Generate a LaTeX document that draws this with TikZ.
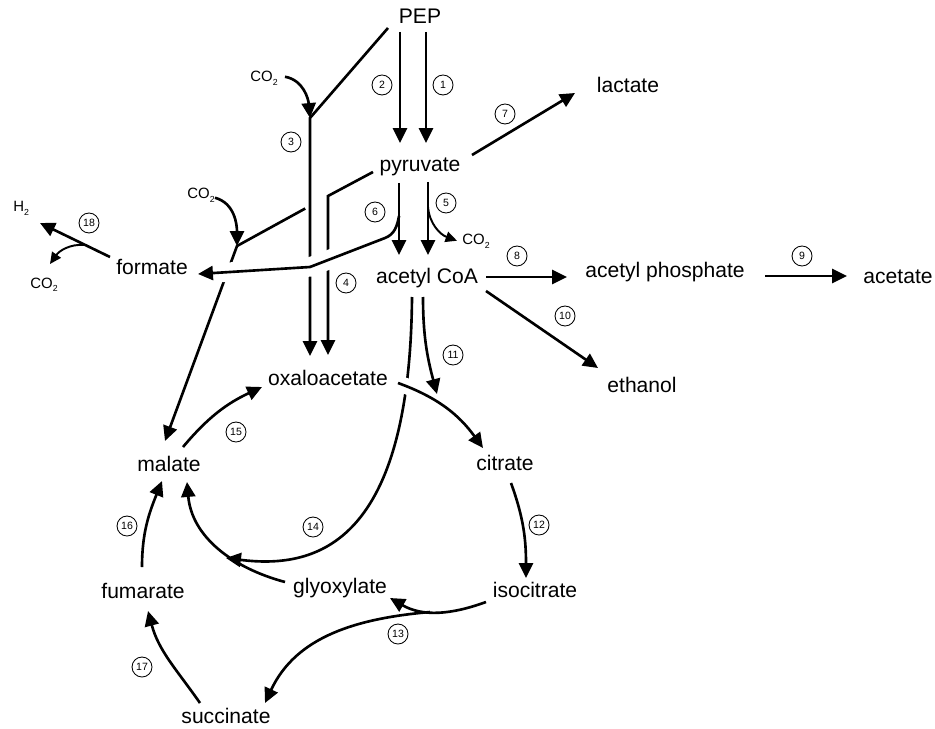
\documentclass[tikz,border=0pt]{standalone}
\usepackage{fontspec}
\setmainfont{Liberation Sans}
\usetikzlibrary{arrows.meta, calc}

\newcommand{\cotwo}{CO\raisebox{-0.5ex}{\fontsize{5}{5}\selectfont 2}}
\newcommand{\htwo}{H\raisebox{-0.5ex}{\fontsize{5}{5}\selectfont 2}}

\tikzset{
  met/.style={inner sep=0pt, anchor=base, font=\fontsize{12}{14}\selectfont},
  gas/.style={inner sep=0pt, anchor=base west, font=\fontsize{8.5}{10}\selectfont},
  enz/.style={circle, draw, line width=0.5pt, inner sep=0pt, minimum size=0.4cm,
    font=\fontsize{6}{7}\selectfont},
  rxn/.style={line width=1.5pt, -{Triangle[length=8.5pt, width=8pt]}},
  side/.style={line width=1.1pt, -{Triangle[length=6.5pt, width=6pt]}},
  over/.style={preaction={draw=white, line width=#1, arrows=-}},
}

\begin{document}
\begin{tikzpicture}[x=0.02cm, y=0.02cm]
  \useasboundingbox (0,0) rectangle (935,-729);
  % Metabolites
  \node[met] (pep)  at (420,-24)  {PEP};
  \node[met] (pyr)  at (420,-172) {pyruvate};
  \node[met] (lac)  at (628,-93)  {lactate};
  \node[met] (acoa) at (427,-283) {acetyl CoA};
  \node[met] (acp)  at (665,-277) {acetyl phosphate};
  \node[met] (ace)  at (898,-283) {acetate};
  \node[met] (eth)  at (642,-392) {ethanol};
  \node[met] (form) at (152,-275) {formate};
  \node[met] (oaa)  at (328,-385) {oxaloacetate};
  \node[met] (mal)  at (169,-471) {malate};
  \node[met] (cit)  at (505,-470) {citrate};
  \node[met] (iso)  at (535,-597) {isocitrate};
  \node[met] (gly)  at (340,-593) {glyoxylate};
  \node[met] (fum)  at (143,-598) {fumarate};
  \node[met] (suc)  at (226,-723) {succinate};
  % Gases
  \node[gas] (h2)   at (13,-212)  {\htwo};
  \node[gas] (co2a) at (250,-82)  {\cotwo};
  \node[gas] (co2b) at (187,-199) {\cotwo};
  \node[gas] (co2c) at (30,-288)  {\cotwo};
  \node[gas] (co2d) at (462,-245) {\cotwo};
  % Branch points
  \coordinate (j3)  at (310,-118);
  \coordinate (j4)  at (328,-196);
  \coordinate (jm)  at (237,-246);
  \coordinate (j5)  at (428,-207);
  \coordinate (j6)  at (399,-216);
  \coordinate (k6a) at (385,-238);
  \coordinate (k6b) at (310,-267);
  \coordinate (j13) at (430,-612);
  \coordinate (j18) at (85,-245);

  % PEP -> pyruvate
  \draw[rxn] ($(pep.base)+(6,-8)$) -- ($(pyr.base)+(6,29)$);
  \draw[rxn] ($(pep.base)+(-20,-8)$) -- ($(pyr.base)+(-20,29)$);
  % pyruvate -> lactate
  \draw[rxn] ($(pyr.base)+(52,17)$) -- ($(lac.base)+(-53,0)$);
  % acetyl CoA -> acetyl phosphate -> acetate, ethanol
  \draw[rxn] ($(acoa.base)+(59,6)$) -- ($(acp.base)+(-98,0)$);
  \draw[rxn] ($(acp.base)+(100,1)$) -- ($(ace.base)+(-51,7)$);
  \draw[rxn] ($(acoa.base)+(59,-8)$) -- ($(eth.base)+(-44,24)$);

  % pyruvate -> malate
  \draw[rxn, shorten <=0.52cm] (j4) -- (jm) -- ($(mal.base)+(-4,30)$);
  \draw[rxn] ($(co2b.east)+(0,-2)$) to[out=-15, in=90] (jm);
  % PEP -> oxaloacetate
  \draw[rxn] ($(pep.base)+(-32,-4)$) -- (j3) -- ($(oaa.base)+(-18,29)$);
  \draw[rxn] ($(co2a.east)+(7,2)$) to[out=-10, in=95] (j3);
  % pyruvate -> oxaloacetate
  \draw[rxn] ($(pyr.base)+(-47,0)$) -- (j4) -- ($(oaa.base)+(0,30)$);
  % pyruvate -> formate
  \draw[rxn, over=11pt] (j6) to[out=-100, in=21] (k6a) -- (k6b)
    -- ($(form.base)+(46,1)$);
  % pyruvate -> acetyl CoA
  \draw[rxn] ($(pyr.base)+(-21,-11)$) -- ($(acoa.base)+(-28,28)$);
  \draw[rxn] ($(pyr.base)+(8,-10)$) -- ($(acoa.base)+(1,28)$);
  \draw[side] (j5) to[out=-85, in=160] ($(co2d.west)+(-5,1)$);

  % acetyl CoA -> malate
  \draw[rxn] ($(acoa.base)+(-15,-14)$) .. controls (410,-540) and (320,-570)
    .. ($(gly.base)+(-114,35)$);
  % oxaloacetate -> citrate
  \draw[rxn, over=9pt] ($(oaa.base)+(70,2)$) to[out=-20, in=126] ($(cit.base)+(-22,22)$);
  \draw[rxn] ($(acoa.base)+(-4,-14)$) to[out=-90, in=105] ($(cit.base)+(-68,76)$);
  % cycle
  \draw[rxn] ($(cit.base)+(6,-13)$) to[out=-70, in=90] ($(iso.base)+(-9,19)$);
  \draw[rxn] ($(iso.base)+(-49,-5)$) to[out=200, in=-30] ($(gly.base)+(50,-5)$);
  \draw[rxn] (j13) to[out=185, in=65] ($(suc.base)+(39,20)$);
  \draw[rxn] ($(suc.base)+(-26,20)$) to[out=125, in=-75] ($(fum.base)+(5,-13)$);
  \draw[rxn] ($(fum.base)+(-1,31)$) to[out=90, in=-112] ($(mal.base)+(-7,-10)$);
  \draw[rxn] ($(gly.base)+(-55,11)$) to[out=165, in=-85] ($(mal.base)+(18,-11)$);
  \draw[rxn] ($(mal.base)+(14,24)$) to[out=50, in=205] ($(oaa.base)+(-66,-2)$);
  % formate -> H2 + CO2
  \draw[rxn] ($(form.base)+(-42,18)$) -- ($(h2.base west)+(27,-11)$);
  \draw[side] (j18) to[out=175, in=55] ($(co2c.base west)+(20,24)$);

  % Enzyme numbers
  \node[enz] (n1)  at (443,-85)  {1};
  \node[enz] (n2)  at (382,-85)  {2};
  \node[enz] (n3)  at (291,-142) {3};
  \node[enz] (n4)  at (346,-283) {4};
  \node[enz] (n5)  at (446,-203) {5};
  \node[enz] (n6)  at (375,-212) {6};
  \node[enz] (n7)  at (505,-114) {7};
  \node[enz] (n8)  at (517,-256) {8};
  \node[enz] (n9)  at (802,-256) {9};
  \node[enz] (n10) at (565,-316) {10};
  \node[enz] (n11) at (453,-355) {11};
  \node[enz] (n12) at (539,-525) {12};
  \node[enz] (n13) at (398,-634) {13};
  \node[enz] (n14) at (313,-527) {14};
  \node[enz] (n15) at (236,-432) {15};
  \node[enz] (n16) at (127,-526) {16};
  \node[enz] (n17) at (142,-667) {17};
  \node[enz] (n18) at (89,-223)  {18};
\end{tikzpicture}
\end{document}
